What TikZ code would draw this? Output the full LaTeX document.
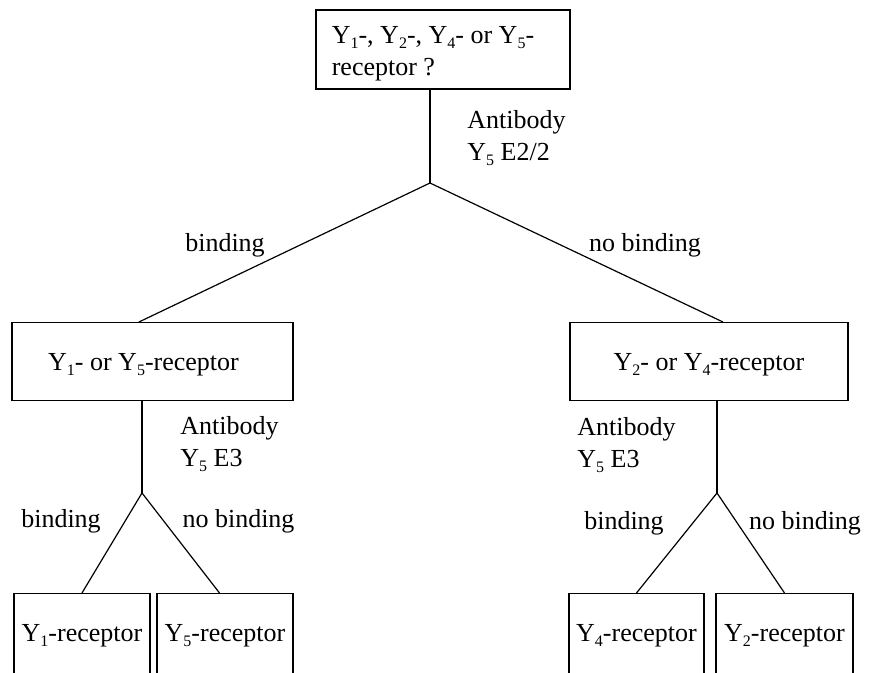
\documentclass[tikz,border=0pt]{standalone}
\usepackage{fontspec}
\setmainfont{Liberation Serif}
\usetikzlibrary{calc}
\newcommand\ysub[1]{\raisebox{-2.6pt}{\fontsize{8}{8}\selectfont #1}}
\begin{document}
\begin{tikzpicture}[x=0.5pt,y=-0.5pt,
  every node/.style={inner sep=0pt, font=\fontsize{13}{16}\selectfont},
  box/.style={draw, line width=0.6pt},
  midbox/.style={box, anchor=north, text height=24pt, text depth=15pt},
  lowbox/.style={box, anchor=north, text height=24pt, text depth=45pt},
  conn/.style={line width=0.6pt}]
\useasboundingbox (0,0) rectangle (869,673);
\clip (0,0) rectangle (869,673);

% top question box
\node[box, minimum width=127pt, minimum height=39.5pt, align=left] (q) at (443,49.5)
  {\rule{0pt}{12.3pt}Y\ysub{1}-, Y\ysub{2}-, Y\ysub{4}- or Y\ysub{5}-\hspace*{10pt}\\receptor ?};

% middle boxes
\node[midbox, minimum width=140.5pt] (L) at (152.5,322) {Y\ysub{1}- or Y\ysub{5}-receptor\hspace*{9pt}};
\node[midbox, minimum width=139pt] (R) at (709,322) {Y\ysub{2}- or Y\ysub{4}-receptor};

% bottom boxes (open below the page edge)
\node[lowbox, minimum width=68pt] (Y1) at (82,593) {Y\ysub{1}-receptor};
\node[lowbox, minimum width=68pt] (Y5) at (225,593) {Y\ysub{5}-receptor};
\node[lowbox, minimum width=67.5pt] (Y4) at (636.5,593) {Y\ysub{4}-receptor};
\node[lowbox, minimum width=68.5pt] (Y2) at (784.5,593) {Y\ysub{2}-receptor};

% junctions
\coordinate (J0) at (430,183);
\coordinate (JL) at (142,493);
\coordinate (JR) at (717,493);

% connectors
\draw[conn] (q.south -| J0) -- (J0);
\draw[conn] (J0) -- ($(L.north west)!0.452!(L.north east)$);
\draw[conn] (J0) -- ($(R.north west)!0.55!(R.north east)$);
\draw[conn] (L.south -| JL) -- (JL);
\draw[conn] (JL) -- (Y1.north);
\draw[conn] (JL) -- ($(Y5.north west)!0.46!(Y5.north east)$);
\draw[conn] (R.south -| JR) -- (JR);
\draw[conn] (JR) -- (Y4.north);
\draw[conn] (JR) -- (Y2.north);

% labels
\node[anchor=north west, align=left] (ab0) at (467,110) {Antibody\\Y\ysub{5} E2/2};
\node[anchor=north west, align=left] (ab1) at (180,416) {Antibody\\Y\ysub{5} E3};
\node[anchor=north west, align=left] (ab2) at (577,417) {Antibody\\Y\ysub{5} E3};
\node (b0) at (225,245) {binding};
\node (nb0) at (645,245) {no binding};
\node (b1) at (61,521) {binding};
\node (nb1) at (238.5,521) {no binding};
\node (b2) at (624,523) {binding};
\node (nb2) at (805,523) {no binding};
\end{tikzpicture}
\end{document}
